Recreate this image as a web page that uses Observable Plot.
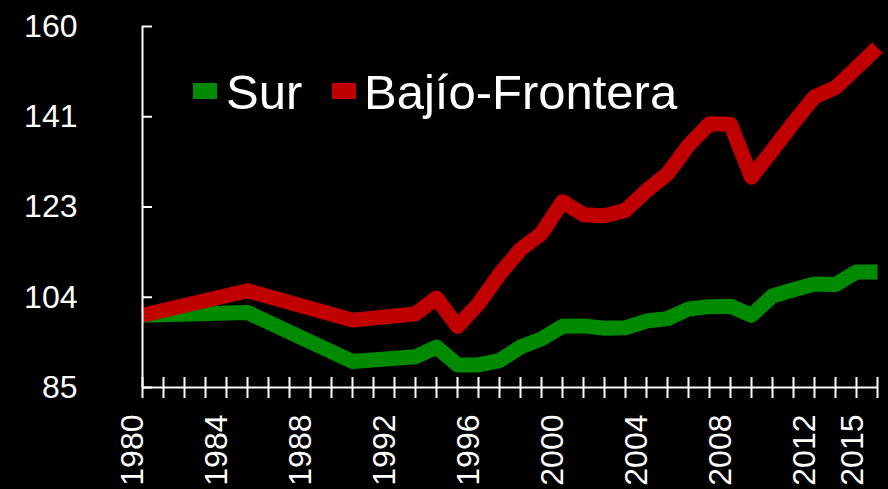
<!DOCTYPE html>
<html>
<head>
<meta charset="utf-8">
<script src="https://cdn.jsdelivr.net/npm/d3@7"></script>
<script src="https://cdn.jsdelivr.net/npm/@observablehq/plot@0.6"></script>
<style>
  html, body { margin: 0; padding: 0; background: #000; }
  #wrap { position: relative; width: 888px; height: 489px; background: #000; font-family: "Liberation Sans", Arial, sans-serif; }
  .sw { position: absolute; width: 24px; height: 16px; }
  .lg { position: absolute; color: #fff; font-size: 49px; line-height: 49px; white-space: nowrap; }
</style>
</head>
<body>
<div id="wrap"></div>
<script>
// ---- data ----
const years = [1980, 1985, 1990, 1993, 1994, 1995, 1996, 1997, 1998, 1999, 2000, 2001, 2002, 2003, 2004, 2005, 2006, 2007, 2008, 2009, 2010, 2011, 2012, 2013, 2014, 2015];
const sur = [100.0, 100.6, 90.4, 91.4, 93.4, 89.7, 89.7, 90.6, 93.4, 95.1, 97.7, 97.8, 97.3, 97.4, 98.8, 99.3, 101.3, 101.8, 101.9, 100.0, 104.0, 105.3, 106.5, 106.4, 109.0, 109.0];
const bajio = [100.0, 105.1, 99.0, 100.3, 103.6, 97.7, 102.4, 108.5, 113.7, 117.0, 123.6, 120.9, 120.7, 121.8, 125.9, 129.4, 135.3, 139.8, 139.7, 128.7, 134.3, 140.0, 145.4, 147.3, 151.4, 155.6];
const seriesNames = ["Sur", "Bajío-Frontera"];
const seriesColors = ["#008a00", "#c00000"];
const yTicks = [85, 103.75, 122.5, 141.25, 160];
const xTickYears = d3.range(1980, 2016);
const xLabelYears = [1980, 1984, 1988, 1992, 1996, 2000, 2004, 2008, 2012];
const xLastLabel = [2015];

const surData = years.map((y, i) => ({year: y, value: sur[i]}));
const bajioData = years.map((y, i) => ({year: y, value: bajio[i]}));

const noText = () => "";
const chart = Plot.plot({
  width: 888,
  height: 489,
  marginLeft: 142,
  marginRight: 11,
  marginTop: 26,
  marginBottom: 102,
  style: {background: "#000", color: "#fff", fontFamily: "'Liberation Sans', Arial, sans-serif"},
  x: {domain: [1980, 2015], axis: null, label: null},
  y: {domain: [85, 160], axis: null, label: null},
  marks: [
    Plot.line(surData, {x: "year", y: "value", stroke: seriesColors[0], strokeWidth: 15, strokeLinejoin: "round", strokeLinecap: "butt"}),
    Plot.line(bajioData, {x: "year", y: "value", stroke: seriesColors[1], strokeWidth: 15, strokeLinejoin: "round", strokeLinecap: "butt"}),
    Plot.ruleX([1980], {stroke: "#fff", strokeWidth: 2}),
    Plot.ruleY([85], {stroke: "#fff", strokeWidth: 2}),
    Plot.axisY(yTicks, {anchor: "left", label: null, tickSize: -10, tickFormat: noText, stroke: "#fff", strokeWidth: 2}),
    Plot.axisX(xTickYears, {anchor: "bottom", label: null, tickSize: 11, tickFormat: noText, stroke: "#fff", strokeWidth: 2}),
    Plot.axisX(xTickYears, {anchor: "bottom", label: null, tickSize: -10, tickFormat: noText, stroke: "#fff", strokeWidth: 2}),
    Plot.text(yTicks, {y: d => d, text: d => String(Math.round(d)), frameAnchor: "left", textAnchor: "end", dx: -65, fill: "#fff", fontSize: 32}),
    Plot.text(xLabelYears, {x: d => d, text: d => String(d), frameAnchor: "bottom", textAnchor: "end", rotate: -90, dy: 27, fill: "#fff", fontSize: 32}),
    Plot.text(xLastLabel, {x: d => d, text: d => String(d), frameAnchor: "bottom", textAnchor: "end", rotate: -90, dy: 27, dx: -15, fill: "#fff", fontSize: 32})
  ]
});
const wrap = document.getElementById("wrap");
wrap.appendChild(chart);

// legend
const legendItems = [
  {name: seriesNames[0], color: seriesColors[0], sx: 193, tx: 226},
  {name: seriesNames[1], color: seriesColors[1], sx: 332, tx: 364}
];
for (const it of legendItems) {
  const s = document.createElement("div");
  s.className = "sw";
  s.style.left = it.sx + "px";
  s.style.top = "83px";
  s.style.background = it.color;
  wrap.appendChild(s);
  const t = document.createElement("div");
  t.className = "lg";
  t.style.left = it.tx + "px";
  t.style.top = "68px";
  t.textContent = it.name;
  wrap.appendChild(t);
}
</script>
</body>
</html>
